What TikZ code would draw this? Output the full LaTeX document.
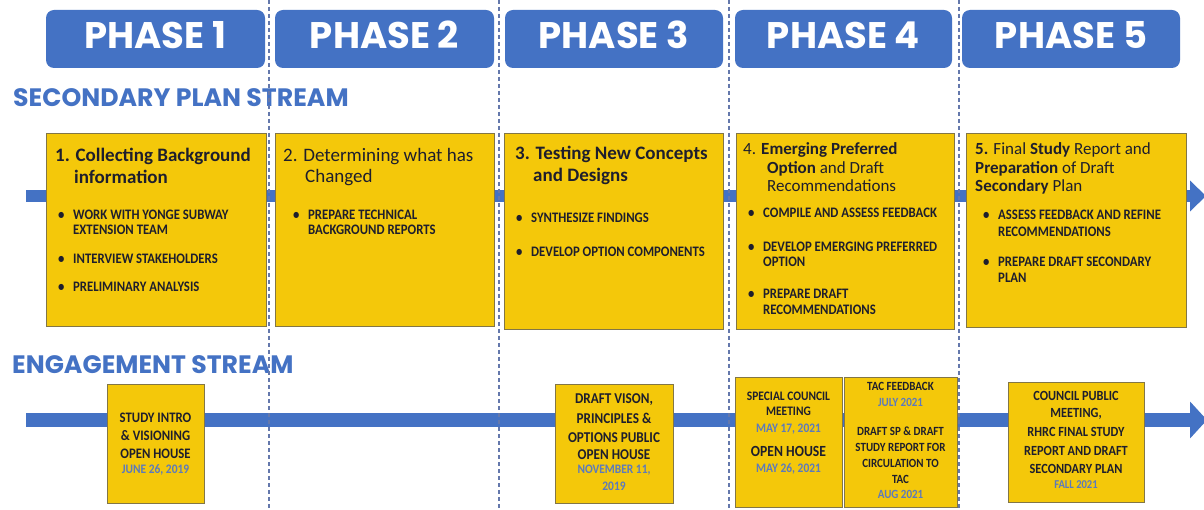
\documentclass[tikz,border=0pt]{standalone}
\usepackage{fontspec}
\setmainfont{Carlito}
\newfontfamily\pop{Poppins}
\newfontfamily\cond{Carlito}[FakeStretch=0.88]
\usetikzlibrary{arrows.meta}
\definecolor{pblue}{RGB}{68,114,196}
\definecolor{pyel}{RGB}{244,200,10}
\definecolor{pbord}{RGB}{130,118,70}
\definecolor{ptext}{RGB}{30,30,45}
\definecolor{pdash}{RGB}{100,120,172}
\definecolor{pdate}{RGB}{92,122,188}
% title paragraph: size, skip, hang indent, content
\newcommand\ttl[4]{\parbox[t]{215pt}{\fontsize{#1}{#2}\selectfont\hangindent=#3\hangafter=1\noindent #4}}
% bullet item: [skip], width, content
\newcommand\bitem[3][15]{\parbox[t]{#2}{\cond\bfseries\fontsize{14.5}{#1}\selectfont\hangindent=15pt\hangafter=1\noindent\makebox[15pt][l]{\textbullet}#3}}
% engagement lines: size, skip, text
\newcommand\eb[3]{{\cond\bfseries\fontsize{#1}{#2}\selectfont\leavevmode\color{ptext}#3\par}}
\newcommand\ed[3]{{\cond\bfseries\fontsize{#1}{#2}\selectfont\leavevmode\color{pdate}#3\par}}
\begin{document}
\begin{tikzpicture}[x=1pt,y=-1pt,
  phase/.style={fill=pblue, rounded corners=8pt, text=white,
    font=\pop\bfseries\fontsize{37}{37}\selectfont, minimum width=219pt,
    inner sep=0pt, text height=39pt, text depth=19pt, anchor=base},
  streamlbl/.style={text=pblue, font=\pop\bfseries\fontsize{25.2}{25}\selectfont,
    anchor=base west, inner sep=0pt},
  ybox/.style={fill=pyel, draw=pbord, line width=0.8pt, inner sep=0pt, anchor=north west},
  txt/.style={anchor=base west, inner sep=0pt, text=ptext},
  etxt/.style={anchor=base, inner sep=0pt},
  bar/.style={draw=pblue, line cap=butt},
  phaseline/.style={draw=pdash, line width=1.1pt, dash pattern=on 4pt off 3pt}
]
\useasboundingbox (0,0) rectangle (1204,510);
\fill[white] (0,0) rectangle (1204,510);

% stream bars
\coordinate (s1a) at (26,196);
\coordinate (s1b) at (1206,196);
\coordinate (s2a) at (26,420);
\coordinate (s2b) at (1207,420);
\draw[bar, line width=12pt, -{Triangle[length=16pt,width=30pt]}] (s1a) -- (s1b);
\draw[bar, line width=14pt, -{Triangle[length=17pt,width=36pt]}] (s2a) -- (s2b);

% phase headers
\node[phase] (ph1) at (155.5,49) {PHASE 1};
\node[phase] (ph2) at (384.5,49) {PHASE 2};
\node[phase, minimum width=218pt] (ph3) at (614,49) {PHASE 3};
\node[phase, minimum width=217pt] (ph4) at (843.5,49) {PHASE 4};
\node[phase, minimum width=218pt] (ph5) at (1071,49) {PHASE 5};

% stream labels
\node[streamlbl] (lsec) at (13,107) {SECONDARY PLAN STREAM};
\node[streamlbl] (leng) at (12,373) {ENGAGEMENT STREAM};

% phase separators
\coordinate (d1a) at (269,0); \coordinate (d1b) at (269,510);
\coordinate (d2a) at (499,0); \coordinate (d2b) at (499,510);
\coordinate (d3a) at (729,0); \coordinate (d3b) at (729,510);
\coordinate (d4a) at (959,0); \coordinate (d4b) at (959,510);
\draw[phaseline] (d1a) -- (d1b);
\draw[phaseline] (d2a) -- (d2b);
\draw[phaseline] (d3a) -- (d3b);
\draw[phaseline] (d4a) -- (d4b);

% secondary plan boxes
\node[ybox, minimum width=220pt, minimum height=193pt] (b1) at (46,133) {};
\node[ybox, minimum width=219pt, minimum height=193pt] (b2) at (275,133) {};
\node[ybox, minimum width=219pt, minimum height=196pt] (b3) at (504,133) {};
\node[ybox, minimum width=218pt, minimum height=196pt] (b4) at (736,133) {};
\node[ybox, minimum width=220pt, minimum height=194pt] (b5) at (966,133) {};

\node[txt] (b1t) at (55,162) {\ttl{19}{21.5}{19pt}{\bfseries 1. Collecting Background\\information}};
\node[txt] (b1a) at (58,220) {\bitem{200pt}{WORK WITH YONGE SUBWAY\\EXTENSION TEAM}};
\node[txt] (b1b) at (58,264) {\bitem{200pt}{INTERVIEW STAKEHOLDERS}};
\node[txt] (b1c) at (58,292) {\bitem{200pt}{PRELIMINARY ANALYSIS}};

\node[txt] (b2t) at (283,162) {\ttl{19}{21}{22pt}{2. Determining what has\\Changed}};
\node[txt] (b2a) at (293,220) {\bitem{195pt}{PREPARE TECHNICAL\\BACKGROUND REPORTS}};

\node[txt] (b3t) at (515,160) {\ttl{19}{22}{18pt}{\bfseries 3. Testing New Concepts\\and Designs}};
\node[txt] (b3a) at (516,223) {\bitem{200pt}{SYNTHESIZE FINDINGS}};
\node[txt] (b3b) at (516,257) {\bitem{200pt}{DEVELOP OPTION COMPONENTS}};

\node[txt] (b4t) at (743,155) {\ttl{17}{18.5}{24pt}{4. \textbf{Emerging Preferred}\\\textbf{Option} and Draft\\Recommendations}};
\node[txt] (b4a) at (748,218) {\bitem{200pt}{COMPILE AND ASSESS FEEDBACK}};
\node[txt] (b4b) at (748,252) {\bitem{200pt}{DEVELOP EMERGING PREFERRED\\OPTION}};
\node[txt] (b4c) at (748,299) {\bitem[16]{200pt}{PREPARE DRAFT\\RECOMMENDATIONS}};

\node[txt] (b5t) at (975,155) {\ttl{17}{18.5}{0pt}{\textbf{5.} Final \textbf{Study} Report and\\\textbf{Preparation} of Draft\\\textbf{Secondary} Plan}};
\node[txt] (b5a) at (983,220) {\bitem[17]{200pt}{ASSESS FEEDBACK AND REFINE\\RECOMMENDATIONS}};
\node[txt] (b5b) at (983,267) {\bitem[16]{200pt}{PREPARE DRAFT SECONDARY\\PLAN}};

% engagement boxes
\node[ybox, minimum width=97pt, minimum height=119pt] (e1) at (107,384) {};
\node[ybox, minimum width=118pt, minimum height=119pt] (e2) at (555,384) {};
\node[ybox, minimum width=107pt, minimum height=130pt] (e3) at (735,377) {};
\node[ybox, minimum width=113pt, minimum height=130pt] (e4) at (844,377) {};
\node[ybox, minimum width=136pt, minimum height=120pt] (e5) at (1008,382) {};

\node[etxt] (e1t) at (155.5,422) {\parbox[t]{95pt}{\centering
  \eb{14.5}{18}{STUDY INTRO}\eb{14.5}{18}{\& VISIONING}\eb{14.5}{18}{OPEN HOUSE}\ed{13}{15}{JUNE 26, 2019}}};
\node[etxt] (e2t) at (614,403) {\parbox[t]{116pt}{\centering
  \eb{15}{20}{DRAFT VISON,}\eb{15}{20}{PRINCIPLES \&}\eb{15}{19}{OPTIONS PUBLIC}\eb{15}{17}{OPEN HOUSE}\ed{13}{14}{NOVEMBER 11,}\ed{13}{17}{2019}}};
\node[etxt] (e3t) at (788.5,400) {\parbox[t]{105pt}{\centering
  \eb{13}{15}{SPECIAL COUNCIL}\eb{13}{15}{MEETING}\ed{13}{17}{MAY 17, 2021}\eb{15.5}{24}{OPEN HOUSE}\ed{13}{16}{MAY 26, 2021}}};
\node[etxt] (e4t) at (900.5,390) {\parbox[t]{111pt}{\centering
  \eb{12.5}{16}{TAC FEEDBACK}\ed{12.5}{16}{JULY 2021}\eb{12.5}{29}{DRAFT SP \& DRAFT}\eb{12.5}{16}{STUDY REPORT FOR}\eb{12.5}{16}{CIRCULATION TO}\eb{12.5}{16}{TAC}\ed{12.5}{15}{AUG 2021}}};
\node[etxt] (e5t) at (1076,400) {\parbox[t]{134pt}{\centering
  \eb{14}{17}{COUNCIL PUBLIC}\eb{14}{17}{MEETING,}\eb{14}{19}{RHRC FINAL STUDY}\eb{14}{19}{REPORT AND DRAFT}\eb{14}{18}{SECONDARY PLAN}\ed{12}{15}{FALL 2021}}};
\end{tikzpicture}
\end{document}
